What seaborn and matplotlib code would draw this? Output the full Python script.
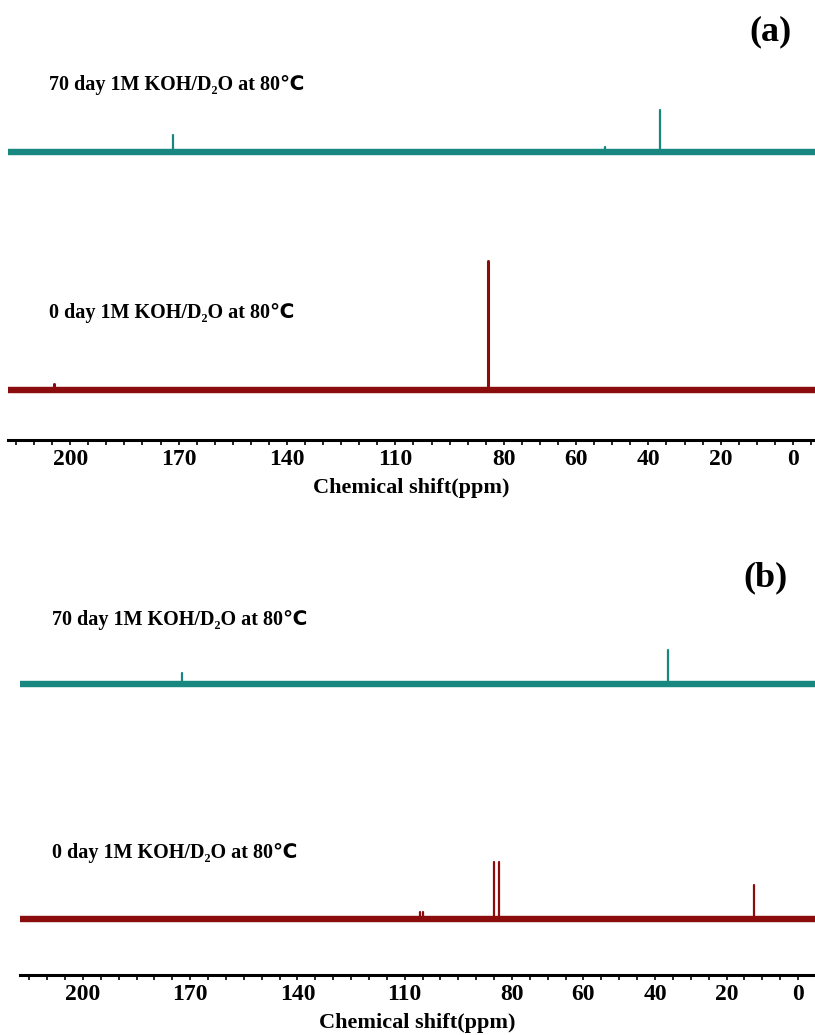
import numpy as np
import pandas as pd
import matplotlib
matplotlib.use("Agg")
import matplotlib.pyplot as plt
from matplotlib.ticker import FixedLocator, MultipleLocator
import seaborn as sns

# chemical shift ticks shown on both axes
tick_labels = [200, 170, 140, 110, 80, 60, 40, 20, 0]

# panel (a): peak positions (ppm) and heights (a.u.)
a_aged_ppm = [171.5, 52.0, 36.8]
a_aged_int = [17, 5, 42]
a_fresh_ppm = [204.5, 84.5]
a_fresh_int = [6, 129]

# panel (b)
b_aged_ppm = [172.3, 36.4]
b_aged_int = [11, 34]
b_fresh_ppm = [105.7, 104.9, 85.0, 83.6, 12.3]
b_fresh_int = [7, 7, 57, 57, 34]

label_aged = "70 day 1M KOH/D\u2082O at 80\u2103"
label_fresh = "0 day 1M KOH/D\u2082O at 80\u2103"

teal = "#17877f"
dred = "#8a0c0c"

sns.set_style("white")
plt.rcParams['font.family'] = ['Liberation Serif', 'DejaVu Sans']
plt.rcParams['font.weight'] = 'bold'
plt.rcParams['text.color'] = 'black'
plt.rcParams['axes.labelcolor'] = 'black'
plt.rcParams['xtick.color'] = 'black'


def sticks(ppm, inten, offset):
    rows = []
    for i, (p, h) in enumerate(zip(ppm, inten)):
        rows.append((i, p, offset))
        rows.append((i, p, offset + h))
    return pd.DataFrame(rows, columns=["peak", "ppm", "intensity"])


def draw_panel(ax, traces, xlim, ylim, texts, tag, tagpos):
    for ppm, inten, offset, color, lw in traces:
        ax.axhline(offset, color=color, lw=4.6, solid_capstyle='butt')
        df = sticks(ppm, inten, offset)
        sns.lineplot(data=df, x="ppm", y="intensity", units="peak",
                     estimator=None, color=color, lw=lw, ax=ax)
    for (x, y, s) in texts:
        ax.text(x, y, s, fontsize=14.5, fontweight='bold', va='center', ha='left')
    ax.text(tagpos[0], tagpos[1], tag, fontsize=26, fontweight='bold',
            va='center', ha='center')
    ax.set_xlim(*xlim)
    ax.set_ylim(*ylim)
    ax.set_yticks([])
    ax.set_ylabel("")
    for s in ["top", "left", "right"]:
        ax.spines[s].set_visible(False)
    ax.spines["bottom"].set_linewidth(2.2)
    ax.spines["bottom"].set_color('black')
    ax.xaxis.set_major_locator(FixedLocator(tick_labels))
    ax.xaxis.set_minor_locator(MultipleLocator(5))
    ax.tick_params(axis='x', which='both', bottom=True, direction='out',
                   length=3.5, width=1.2, color='black')
    ax.tick_params(axis='x', which='major', labelsize=17, pad=3)
    for t in ax.get_xticklabels():
        t.set_fontweight('bold')
    ax.set_xlabel("Chemical shift(ppm)", fontsize=16, fontweight='bold', labelpad=6)
    ax.patch.set_alpha(0)


fig = plt.figure(figsize=(8.15, 10.35), dpi=100)
ax_a = fig.add_axes([8 / 815, 1 - 440 / 1035, 1 - 8 / 815, 440 / 1035])
ax_b = fig.add_axes([20 / 815, 1 - 975 / 1035, 1 - 20 / 815, 435 / 1035])

draw_panel(ax_a,
           [(a_aged_ppm, a_aged_int, 288, teal, 1.6),
            (a_fresh_ppm, a_fresh_int, 50, dred, 2.2)],
           (217.2, -6.1), (0, 440),
           [(205.8, 355, label_aged), (205.8, 127, label_fresh)],
           "(a)", (6.1, 408))

draw_panel(ax_b,
           [(b_aged_ppm, b_aged_int, 291, teal, 1.6),
            (b_fresh_ppm, b_fresh_int, 56, dred, 1.6)],
           (217.6, -4.75), (0, 435),
           [(208.7, 355, label_aged), (208.7, 122, label_fresh)],
           "(b)", (9.2, 397))

fig.savefig("out.png", dpi=100)
